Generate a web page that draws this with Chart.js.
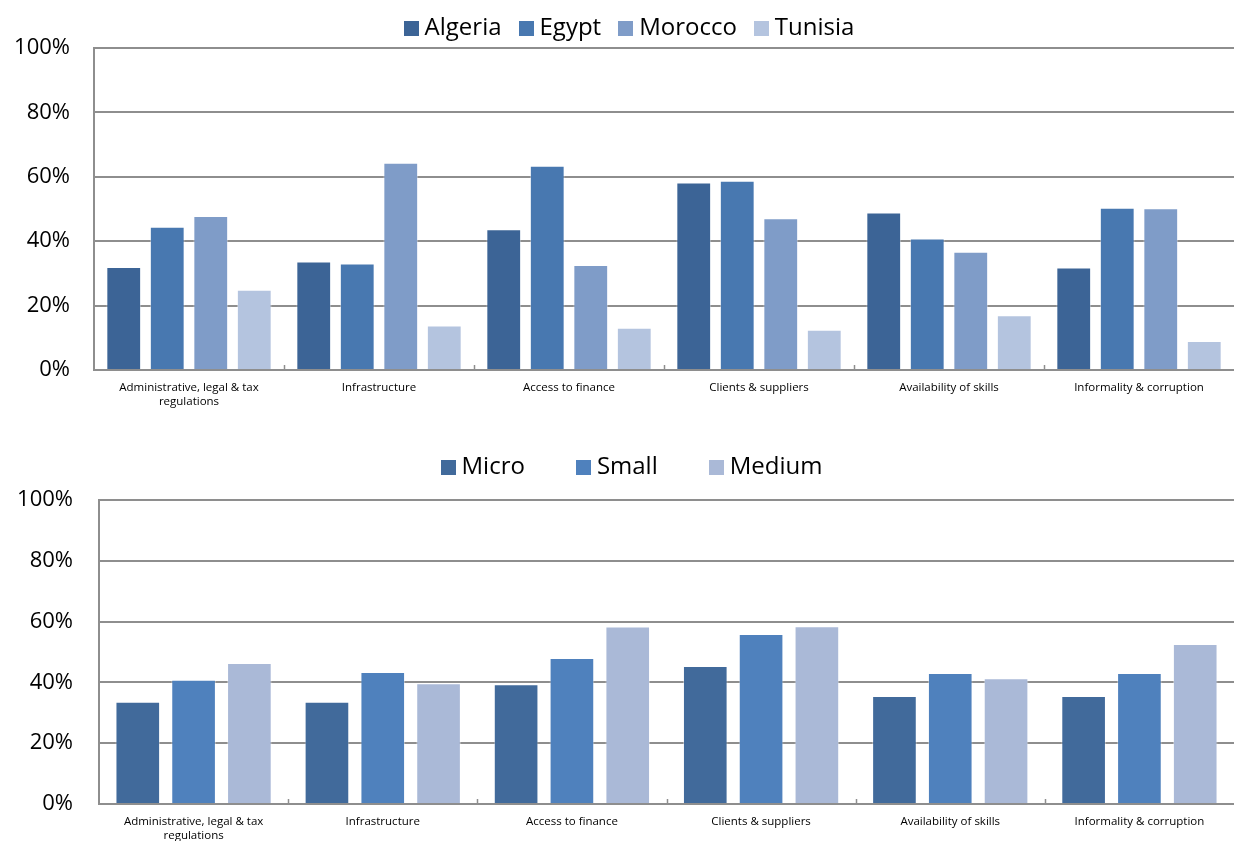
<!DOCTYPE html>
<html>
<head>
<meta charset="utf-8">
<script src="https://cdn.jsdelivr.net/npm/chart.js@4/dist/chart.umd.min.js"></script>
<style>
  html, body { margin: 0; padding: 0; background: #ffffff; }
  body { width: 1234px; height: 841px; position: relative; overflow: hidden; }
  .panel { position: absolute; left: 0; }
  #countryPanel { top: 0; }
  #sizePanel { top: 405px; }
  canvas { display: block; }
</style>
</head>
<body>
<div class="panel" id="countryPanel"><canvas id="byCountry" width="1234" height="420"></canvas></div>
<div class="panel" id="sizePanel"><canvas id="bySize" width="1234" height="436"></canvas></div>
<script>
// Obstacle categories shared by both panels
const categories = [
  ['Administrative, legal & tax', 'regulations'],
  'Infrastructure',
  'Access to finance',
  'Clients & suppliers',
  'Availability of skills',
  'Informality & corruption'
];

// Share of firms (%) by country
const countryNames = ['Algeria', 'Egypt', 'Morocco', 'Tunisia'];
const algeria = [32.0, 33.7, 43.7, 58.2, 48.9, 31.8];
const egypt   = [44.5, 33.1, 63.4, 58.8, 40.8, 50.4];
const morocco = [47.8, 64.4, 32.6, 47.1, 36.7, 50.2];
const tunisia = [24.9, 13.8, 13.1, 12.5, 17.0, 9.0];

// Share of firms (%) by firm size
const sizeNames = ['Micro', 'Small', 'Medium'];
const micro  = [33.6, 33.6, 39.4, 45.4, 35.5, 35.5];
const small  = [40.9, 43.4, 48.0, 55.9, 43.1, 43.1];
const medium = [46.4, 39.7, 58.4, 58.5, 41.4, 52.6];

// Value axis
const yMin = 0, yMax = 100, yStep = 20;

const FONT = '"Open Sans", "DejaVu Sans", sans-serif';
const GRID = '#8e8e8e';

// Square legend swatch drawn as a point-style image
function swatch(color) {
  const c = document.createElement('canvas');
  c.width = 15; c.height = 15;
  const g = c.getContext('2d');
  g.fillStyle = color;
  g.fillRect(0, 0, 15, 15);
  return c;
}

// Small tick marks standing on the category axis between groups
const groupTicks = {
  id: 'groupTicks',
  afterDraw(chart) {
    const x = chart.scales.x;
    const base = chart.chartArea.bottom;
    const ctx = chart.ctx;
    ctx.save();
    ctx.strokeStyle = GRID;
    ctx.lineWidth = 1.5;
    for (let i = 1; i < x.ticks.length; i++) {
      const px = Math.round((x.getPixelForValue(i - 1) + x.getPixelForValue(i)) / 2) + 0.5;
      ctx.beginPath();
      ctx.moveTo(px, base);
      ctx.lineTo(px, base - 5);
      ctx.stroke();
    }
    ctx.restore();
  }
};

// Fixed legend band height and a nudge of the legend row
const legendBox = {
  id: 'legendBox',
  beforeLayout(chart, args, opts) {
    const lg = chart.legend;
    if (!lg || lg.__fixedFit) return;
    const fit = lg.fit;
    lg.fit = function () {
      fit.call(this);
      this.height = opts.height;
    };
    lg.__fixedFit = true;
  },
  afterLayout(chart, args, opts) {
    const lg = chart.legend;
    if (!lg) return;
    lg.left += opts.dx;
    lg.right += opts.dx;
    lg.top += opts.dy;
    lg.bottom += opts.dy;
  }
};

function makeOptions(cfg) {
  return {
    responsive: false,
    devicePixelRatio: 1,
    animation: false,
    layout: { padding: 0 },
    datasets: {
      bar: {
        categoryPercentage: cfg.catPct,
        barPercentage: cfg.barPct,
        borderWidth: 1,
        borderColor: 'rgba(255,255,255,0.4)'
      }
    },
    plugins: {
      tooltip: { enabled: false },
      legendBox: { height: cfg.legendHeight, dx: cfg.legendDx, dy: cfg.legendDy },
      legend: {
        position: 'top',
        align: 'center',
        labels: {
          usePointStyle: true,
          pointStyleWidth: 3,
          padding: cfg.legendGap,
          color: '#000000',
          font: { family: FONT, size: 24 }
        }
      }
    },
    scales: {
      x: {
        afterFit(scale) { scale.height = cfg.xHeight; },
        grid: { display: true, drawOnChartArea: false, drawTicks: false },
        border: { display: true, color: GRID, width: 2 },
        ticks: {
          maxRotation: 0,
          autoSkip: false,
          padding: 11,
          color: '#000000',
          font: { family: FONT, size: 11.5, lineHeight: 1.2 }
        }
      },
      y: {
        min: yMin,
        max: yMax,
        afterFit(scale) { scale.width = cfg.yWidth; },
        grid: {
          color: GRID,
          lineWidth: 2,
          drawTicks: true,
          tickLength: cfg.tickGap,
          tickColor: 'rgba(0,0,0,0)'
        },
        border: { display: true, color: GRID, width: 2 },
        ticks: {
          stepSize: yStep,
          padding: 0,
          color: '#000000',
          font: { family: FONT, size: 22 },
          callback: v => v + '%'
        }
      }
    }
  };
}

function series(label, data, color) {
  return { label, data, backgroundColor: color, pointStyle: swatch(color) };
}

new Chart(document.getElementById('byCountry'), {
  type: 'bar',
  data: {
    labels: categories,
    datasets: [
      series(countryNames[0], algeria, '#3c6496'),
      series(countryNames[1], egypt,   '#4878b0'),
      series(countryNames[2], morocco, '#7f9cc8'),
      series(countryNames[3], tunisia, '#b4c4df')
    ]
  },
  options: makeOptions({
    yWidth: 94, tickGap: 24,
    legendHeight: 48, legendGap: 23, legendDx: 15, legendDy: -7,
    xHeight: 50, catPct: 0.916, barPct: 0.80
  }),
  plugins: [groupTicks, legendBox]
});

new Chart(document.getElementById('bySize'), {
  type: 'bar',
  data: {
    labels: categories,
    datasets: [
      series(sizeNames[0], micro,  '#416a9b'),
      series(sizeNames[1], small,  '#4f81bd'),
      series(sizeNames[2], medium, '#aab9d7')
    ]
  },
  options: makeOptions({
    yWidth: 99, tickGap: 26,
    legendHeight: 95, legendGap: 57, legendDx: 17.5, legendDy: -7,
    xHeight: 37, catPct: 0.885, barPct: 0.80
  }),
  plugins: [groupTicks, legendBox]
});
</script>
</body>
</html>
